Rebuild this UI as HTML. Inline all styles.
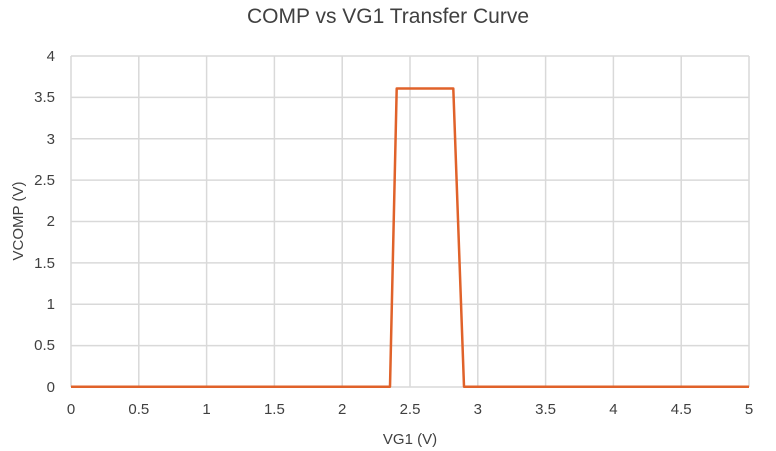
<!DOCTYPE html>
<html><head><style>body{margin:0;background:#fff}svg{display:block}</style></head><body>
<svg width="776" height="451" xmlns="http://www.w3.org/2000/svg" font-family="Liberation Sans, sans-serif">
<rect width="776" height="451" fill="#fff"/>
<text x="388" y="23" font-size="21" fill="#404040" text-anchor="middle">COMP vs VG1 Transfer Curve</text>
<g stroke="#d9d9d9" stroke-width="1.5">
<line x1="71" y1="56" x2="749" y2="56"/><line x1="71" y1="97.4" x2="749" y2="97.4"/><line x1="71" y1="138.8" x2="749" y2="138.8"/><line x1="71" y1="180.1" x2="749" y2="180.1"/><line x1="71" y1="221.5" x2="749" y2="221.5"/><line x1="71" y1="262.9" x2="749" y2="262.9"/><line x1="71" y1="304.3" x2="749" y2="304.3"/><line x1="71" y1="345.6" x2="749" y2="345.6"/>
<line x1="71" y1="56" x2="71" y2="387"/><line x1="138.8" y1="56" x2="138.8" y2="387"/><line x1="206.6" y1="56" x2="206.6" y2="387"/><line x1="274.4" y1="56" x2="274.4" y2="387"/><line x1="342.2" y1="56" x2="342.2" y2="387"/><line x1="410" y1="56" x2="410" y2="387"/><line x1="477.8" y1="56" x2="477.8" y2="387"/><line x1="545.6" y1="56" x2="545.6" y2="387"/><line x1="613.4" y1="56" x2="613.4" y2="387"/><line x1="681.2" y1="56" x2="681.2" y2="387"/><line x1="749" y1="56" x2="749" y2="387"/>
<line x1="71" y1="387" x2="749" y2="387"/>
</g>
<polyline points="71,386.7 390,386.7 396.7,88.5 453.3,88.5 464,386.7 749,386.7" fill="none" stroke="#e0622a" stroke-width="2.5" stroke-linejoin="round"/>
<g font-size="15" fill="#404040" text-anchor="end">
<text x="55" y="61">4</text><text x="55" y="102">3.5</text><text x="55" y="144">3</text><text x="55" y="185">2.5</text><text x="55" y="226">2</text><text x="55" y="268">1.5</text><text x="55" y="309">1</text><text x="55" y="350">0.5</text><text x="55" y="392">0</text>
</g>
<g font-size="15" fill="#404040" text-anchor="middle">
<text x="71" y="414">0</text><text x="138.8" y="414">0.5</text><text x="206.6" y="414">1</text><text x="274.4" y="414">1.5</text><text x="342.2" y="414">2</text><text x="410" y="414">2.5</text><text x="477.8" y="414">3</text><text x="545.6" y="414">3.5</text><text x="613.4" y="414">4</text><text x="681.2" y="414">4.5</text><text x="749" y="414">5</text>
</g>
<text x="410" y="444" font-size="15" fill="#404040" text-anchor="middle">VG1 (V)</text>
<text transform="translate(23,221) rotate(-90)" font-size="15" fill="#404040" text-anchor="middle">VCOMP (V)</text>
</svg>
</body></html>
